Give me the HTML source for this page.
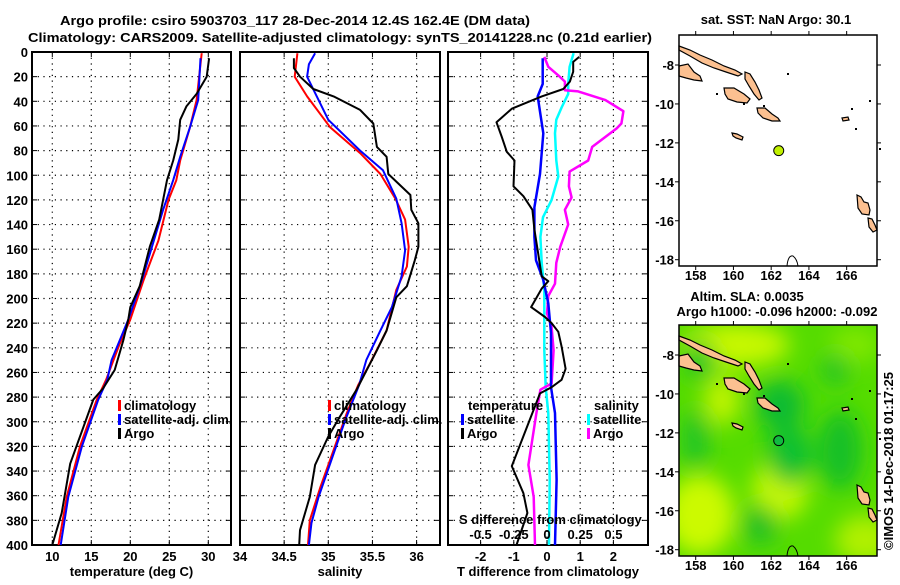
<!DOCTYPE html>
<html><head><meta charset="utf-8"><style>
body{margin:0;background:#fff;}
svg text{font-family:"Liberation Sans",sans-serif;font-weight:bold;font-size:13px;fill:#000;}
</style></head><body>
<svg id="chart" width="900" height="580" viewBox="0 0 900 580">
<defs>
<filter id="blur" x="-20%" y="-20%" width="140%" height="140%"><feGaussianBlur stdDeviation="11"/></filter>
<clipPath id="clipMap2"><rect x="679" y="325" width="198" height="231"/></clipPath>
</defs>
<text x="60" y="25" font-size="15.5" textLength="470" lengthAdjust="spacingAndGlyphs">Argo profile: csiro 5903703_117 28-Dec-2014 12.4S 162.4E (DM data)</text>
<text x="28" y="42" font-size="15.5" textLength="624" lengthAdjust="spacingAndGlyphs">Climatology: CARS2009. Satellite-adjusted climatology: synTS_20141228.nc (0.21d earlier)</text>
<g id="panels"></g>
<g id="maps"></g>
</svg>
<script>
// ---------- data ----------
const depthTicks=[0,20,40,60,80,100,120,140,160,180,200,220,240,260,280,300,320,340,360,380,400];
const tempTicks=[10,15,20,25,30];
const salTicks=[34,34.5,35,35.5,36];
const salTickLabels=["34","34.5","35","35.5","36"];
const tdiffTicks=[-2,-1,0,1,2];
const sdiffTicks=[-0.5,-0.25,0,0.25,0.5];
const sdiffTickLabels=["-0.5","-0.25","0","0.25","0.5"];

const tClimDepth=[1,39,61,88,104,120,153,185,217,239,266,282,320,361,400];
const tClimVal=[29.15,28.5,27.65,26.4,25.9,24.9,23.6,21.7,20.0,18.5,16.9,15.7,13.55,11.85,10.8];
const tSatDepth=[5,39,61,85,104,128,185,217,250,266,282,320,361,400];
const tSatVal=[29.0,28.7,27.65,26.4,25.5,24.2,21.5,19.75,17.6,17.05,15.9,13.8,12.05,11.08];
const tArgoDepth=[5,20,34,44,55,71,88,104,120,136,158,190,207,217,234,258,273,282,334,374,400];
const tArgoVal=[30.1,29.8,28.5,27.2,26.4,26.15,25.5,24.7,24.2,23.7,22.5,21.2,20.0,19.75,19.1,18.0,16.5,15.25,12.3,11.2,10.0];

const sClimDepth=[1,20,36,61,82,99,119,136,158,174,193,226,253,270,293,323,353,380,400];
const sClimVal=[34.65,34.62,34.76,35.02,35.36,35.59,35.76,35.87,35.91,35.89,35.77,35.66,35.47,35.34,35.21,35.06,34.91,34.79,34.77];
const sSatDepth=[1,10,20,36,55,80,96,119,139,161,182,207,226,250,270,299,361,382,400];
const sSatVal=[34.85,34.78,34.76,34.87,35.0,35.36,35.62,35.77,35.83,35.87,35.83,35.72,35.59,35.43,35.35,35.19,34.89,34.81,34.78];
const sArgoDepth=[5,13,20,30,36,47,58,77,85,99,116,128,139,158,169,190,199,226,242,274,296,312,335,361,388,400];
const sArgoVal=[34.61,34.61,34.68,34.83,35.06,35.36,35.51,35.55,35.66,35.68,35.93,35.94,36.02,36.02,35.98,35.89,35.77,35.66,35.55,35.32,35.13,35.0,34.85,34.79,34.68,34.67];

const dTSatDepth=[5,26,36,66,99,126,150,169,185,204,228,272,293,347,400];
const dTSatVal=[-0.13,-0.13,-0.28,-0.11,-0.21,-0.38,-0.38,-0.33,-0.11,0.04,0.12,0.12,0.24,0.29,0.24];
const dTArgoDepth=[4,8,16,24,30,36,46,57,69,81,88,109,117,128,144,161,182,186,192,207,215,220,227,239,257,266,272,277,336,358,374,400];
const dTArgoVal=[0.97,0.79,0.79,0.69,0.49,-0.16,-1.06,-1.52,-1.36,-1.21,-0.98,-1.01,-0.71,-0.44,-0.38,-0.28,-0.16,0.04,-0.16,-0.48,-0.06,0.14,0.34,0.44,0.56,0.44,0.14,-0.21,-1.06,-0.71,-0.59,-0.92];
const dSSatDepth=[1,12,26,34,45,55,66,88,101,120,134,150,171,193,242,272,293,347,400];
const dSSatVal=[0.2,0.17,0.16,0.16,0.11,0.07,0.06,0.07,0.085,0.035,-0.03,-0.05,-0.04,-0.02,-0.02,-0.01,0.01,0.02,0.015];
const dSArgoDepth=[4,12,19,24,31,32,39,48,58,62,77,88,97,109,118,128,140,158,171,188,198,212,223,242,269,274,293,335,361,400];
const dSArgoVal=[-0.02,0.01,0.085,0.135,0.135,0.235,0.44,0.575,0.56,0.525,0.34,0.31,0.17,0.165,0.185,0.135,0.16,0.1,0.07,0.06,0.01,0,0.035,0.05,0.035,-0.05,-0.08,-0.14,-0.1,-0.09];

const lonTicks=[158,160,162,164,166];
const latTicks=[-8,-10,-12,-14,-16,-18];
const argoLon=162.4, argoLat=-12.4;

// ---------- scales ----------
const Y0=52, YK=1.2325;
const yD=d=>Y0+d*YK;
const xT=t=>52.3+(t-10)*7.8;
const xS=s=>240+(s-34)*88.3;
const xdT=t=>547+t*33.2;
const xdS=s=>547+s*4*33.2;
const lonX=l=>695.7+(l-158)*18.87;
const latY1=l=>65+(-8-l)*19.47;

const NS="http://www.w3.org/2000/svg";
function mk(tag,attrs,parent,txt){const e=document.createElementNS(NS,tag);for(const k in attrs)e.setAttribute(k,attrs[k]);if(txt!==undefined)e.textContent=txt;parent.appendChild(e);return e;}
const panels=document.getElementById('panels');

function panel(name,x0,x1,ticks,labels,xf,xlabel){
  const g=mk('g',{},panels);
  
  
  mk('rect',{x:x0,y:Y0,width:x1-x0,height:yD(400)-Y0,fill:'#fff',stroke:'#000','stroke-width':2},g);
  depthTicks.forEach(d=>{if(d>0&&d<400)mk('line',{x1:x0,x2:x1,y1:yD(d),y2:yD(d),stroke:'#000','stroke-width':1.2,'stroke-dasharray':'1.2 4.5'},g);
    mk('line',{x1:x0,x2:x0+5,y1:yD(d),y2:yD(d),stroke:'#000'},g);mk('line',{x1:x1-5,x2:x1,y1:yD(d),y2:yD(d),stroke:'#000'},g);});
  ticks.forEach((t,i)=>{const x=xf(t);
    if(x>x0+1&&x<x1-1)mk('line',{x1:x,x2:x,y1:Y0,y2:yD(400),stroke:'#000','stroke-width':1.2,'stroke-dasharray':'1.2 4.5'},g);
    mk('line',{x1:x,x2:x,y1:yD(400),y2:yD(400)-5,stroke:'#000'},g);mk('line',{x1:x,x2:x,y1:Y0,y2:Y0+5,stroke:'#000'},g);
    const tl=mk('text',{x:x,y:561,'text-anchor':'middle'},g,labels[i]);
    
    
  });
  const xt=mk('text',{x:(x0+x1)/2,y:576,'text-anchor':'middle'},g,xlabel);
  
  
  return g;
}
function series(g,name,depths,vals,xf,color,w){
  const pts=depths.map((d,i)=>xf(vals[i]).toFixed(1)+','+yD(d).toFixed(1)).join(' ');
  const p=mk('polyline',{points:pts,fill:'none',stroke:color,'stroke-width':w,'stroke-linejoin':'round'},g);
  
  
}
function legend(g,x,y,color,label){
  const l=mk('g',{},g);
  
  
  mk('rect',{x:x,y:y-10,width:3,height:11,fill:color},l);
  mk('text',{x:x+6,y:y,'font-size':12},l,label);
}
depthTicks.forEach(d=>{const t=mk('text',{x:28,y:yD(d)+5,'text-anchor':'end'},panels,String(d));
  
  });

const g1=panel('temperature-panel',32,231,tempTicks,tempTicks.map(String),xT,'temperature (deg C)');
series(g1,'temp-climatology-line',tClimDepth,tClimVal,xT,'#f00',2);
series(g1,'temp-satellite-line',tSatDepth,tSatVal,xT,'#00f',2);
series(g1,'temp-argo-line',tArgoDepth,tArgoVal,xT,'#000',2);
legend(g1,118,410,'#f00','climatology');legend(g1,118,424,'#00f','satellite-adj. clim.');legend(g1,118,438,'#000','Argo');

const g2=panel('salinity-panel',240,440,salTicks,salTickLabels,xS,'salinity');
series(g2,'sal-climatology-line',sClimDepth,sClimVal,xS,'#f00',2);
series(g2,'sal-satellite-line',sSatDepth,sSatVal,xS,'#00f',2);
series(g2,'sal-argo-line',sArgoDepth,sArgoVal,xS,'#000',2);
legend(g2,328,410,'#f00','climatology');legend(g2,328,424,'#00f','satellite-adj. clim.');legend(g2,328,438,'#000','Argo');

const g3=panel('difference-panel',448,648,tdiffTicks,tdiffTicks.map(String),xdT,'T difference from climatology');
series(g3,'sdiff-satellite-line',dSSatDepth,dSSatVal,xdS,'#0ff',2.5);
series(g3,'sdiff-argo-line',dSArgoDepth,dSArgoVal,xdS,'#f0f',2.5);
series(g3,'tdiff-satellite-line',dTSatDepth,dTSatVal,xdT,'#00f',2.5);
series(g3,'tdiff-argo-line',dTArgoDepth,dTArgoVal,xdT,'#000',2);
mk('text',{x:468,y:410,'font-size':12},g3,'temperature');
mk('text',{x:594,y:410,'font-size':12},g3,'salinity');
legend(g3,461,424,'#00f','satellite');legend(g3,461,438,'#000','Argo');
legend(g3,587,424,'#0ff','satellite');legend(g3,587,438,'#f0f','Argo');
const st=mk('text',{x:459,y:524,'font-size':12},g3,'S difference from climatology');


sdiffTicks.forEach((s,i)=>{const t=mk('text',{x:xdS(s),y:539,'text-anchor':'middle','font-size':12},g3,sdiffTickLabels[i]);
  
  });

// ---------- maps ----------
const maps=document.getElementById('maps');
function islands(g){
  const polys=[
   "679,46 690,50 700,55 712,60 724,66 735,70 742,74 738,76 726,72 714,68 702,63 690,56 679,50",
   "679,66 688,64 694,72 700,76 702,81 694,80 686,78 679,76",
   "724,88 734,88 744,94 750,99 747,103 737,102 728,99 725,94",
   "745,72 750,74 755,82 759,90 762,98 759,100 754,94 749,86 745,79",
   "757,108 765,108 772,114 778,118 780,121 772,121 763,118 758,113",
   "732,133 737,134 743,137 742,140 736,138 733,136",
   "857,195 861,197 864,202 868,203 870,210 869,215 862,214 858,208",
   "868,218 872,219 875,225 877,230 873,232 869,227",
   "842,118 848,117 849,120 843,121"];
  polys.forEach(p=>{const e=mk('polygon',{points:p,fill:'#fcc090',stroke:'#000','stroke-width':1.2},g);
    
    });
  [[716,93],[743,103],[763,105],[787,73],[869,100],[851,108],[855,128],[879,148]].forEach(c=>mk('rect',{x:c[0],y:c[1],width:2,height:2,fill:'#000'},g));
  mk('path',{d:"M787 266 Q788 255 793 256 Q797 259 798 266",fill:'none',stroke:'#000'},g);
}
function mapFrame(name){
  const g=mk('g',{},maps);
  
  
  return g;
}
const m1=mapFrame('sst-map');
mk('rect',{x:679,y:35,width:198,height:231,fill:'#fff'},m1);
islands(m1);
const dot1=mk('circle',{cx:lonX(argoLon),cy:latY1(argoLat),r:5,fill:'#c0f000',stroke:'#000'},m1);


mk('rect',{x:679,y:35,width:198,height:231,fill:'none',stroke:'#000','stroke-width':1.5},m1);
mk('text',{x:776,y:24,'text-anchor':'middle','font-size':12},m1,'sat. SST: NaN Argo: 30.1');

const m2=mapFrame('sla-map');
const fld=mk('g',{'clip-path':'url(#clipMap2)'},m2);
mk('rect',{x:679,y:325,width:198,height:231,fill:'#55dc00'},fld);
const bl=mk('g',{filter:'url(#blur)'},fld);
[[735,345,55,22,'#c8f800'],[722,400,18,25,'#c0f400'],[700,515,35,40,'#ccfa00'],[780,490,28,30,'#c4f800'],[865,540,30,25,'#b0f000'],[855,345,25,18,'#80e800'],
 [780,405,25,25,'#10bb30'],[790,455,22,30,'#10c030'],[840,450,22,40,'#18c028'],[760,525,18,20,'#20c028'],[695,440,14,30,'#20c428'],[700,360,16,20,'#20c428'],[835,370,14,16,'#20c428']]
.forEach(b=>mk('ellipse',{cx:b[0],cy:b[1],rx:b[2],ry:b[3],fill:b[4]},bl));
const m2i=mk('g',{transform:'translate(0,290)'},m2);
islands(m2i);
const dot2=mk('circle',{cx:lonX(argoLon),cy:latY1(argoLat),r:5,fill:'#10bb40',stroke:'#000'},m2i);


mk('rect',{x:679,y:325,width:198,height:231,fill:'none',stroke:'#000','stroke-width':1.5},m2);
mk('text',{x:747,y:301,'text-anchor':'middle','font-size':12},m2,'Altim. SLA: 0.0035');
mk('text',{x:777,y:316,'text-anchor':'middle','font-size':12},m2,'Argo h1000: -0.096 h2000: -0.092');
mk('text',{x:0,y:0,'font-size':12,'font-weight':'normal',transform:'translate(893,550) rotate(-90)'},m2,'©IMOS 14-Dec-2018 01:17:25');

[[m1,35,0,280],[m2,325,290,570]].forEach(([g,top,off,ly])=>{
  lonTicks.forEach(l=>{const x=lonX(l);mk('line',{x1:x,x2:x,y1:top,y2:top-4,stroke:'#000'},g);mk('line',{x1:x,x2:x,y1:top+231,y2:top+235,stroke:'#000'},g);
    const t=mk('text',{x:x,y:ly,'text-anchor':'middle','font-size':12},g,String(l));
    
    });
  latTicks.forEach(l=>{const y=latY1(l)+off;mk('line',{x1:679,x2:675,y1:y,y2:y,stroke:'#000'},g);mk('line',{x1:877,x2:881,y1:y,y2:y,stroke:'#000'},g);
    const t=mk('text',{x:674,y:y+5,'text-anchor':'end','font-size':12},g,String(l));
    
    });
});
</script>
</body></html>
